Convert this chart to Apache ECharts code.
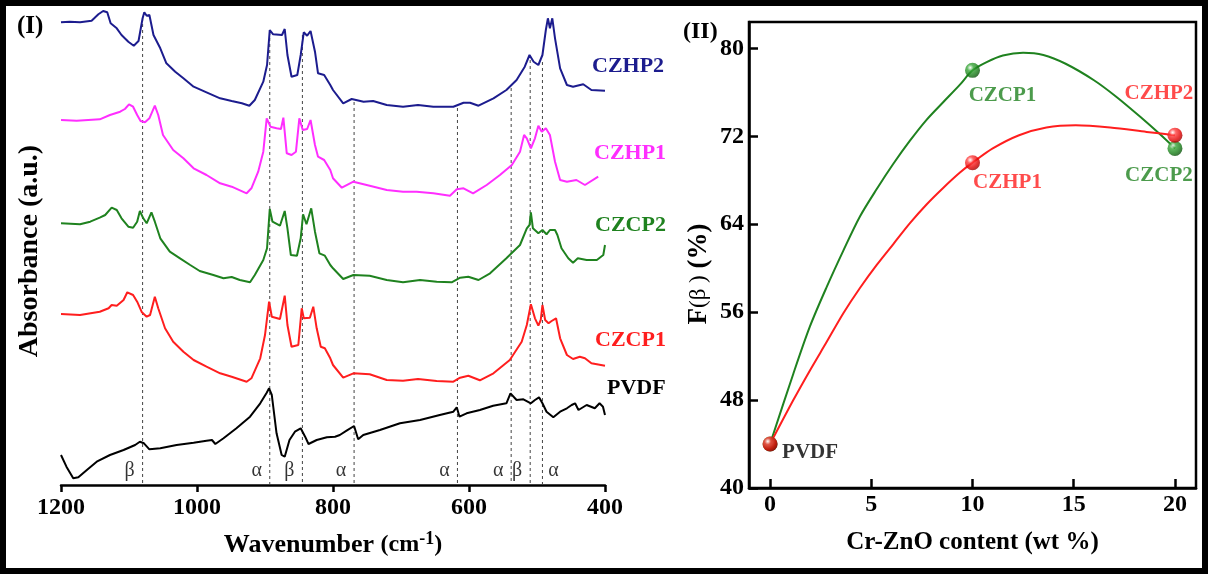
<!DOCTYPE html>
<html><head><meta charset="utf-8">
<script src="https://cdn.jsdelivr.net/npm/echarts@6/dist/echarts.min.js"></script>
<style>html,body{margin:0;padding:0;background:#fff}#c{width:1208px;height:574px}</style>
</head><body><div id="c"></div>
<script>
// ---------- Panel (I): FTIR spectra (stacked, arbitrary units) ----------
const wnTicks = [1200, 1000, 800, 600, 400];
const CZHP2 = [[1200,462.7],[1187,463.3],[1172,462.7],[1155,464.3],[1145,470.7],[1138,474],[1132,472.7],[1127,461.7],[1118,456.7],[1111,450],[1101,443.3],[1093,439.3],[1086,444],[1080,466.7],[1077.5,472.7],[1074,469.3],[1070,470],[1064,450],[1054,436.7],[1045,421.7],[1032,413.3],[1020,406.7],[1005,398.3],[986,392.7],[966,386.7],[949,384],[934,381.7],[923,379.3],[915,385],[902.5,403.3],[897,420],[893,455],[888,450.7],[875,450],[871,456],[867,430],[861,408.3],[852.5,410],[847.5,430],[843,452.7],[838,449.3],[833,454],[826.5,433.3],[822,411.7],[813,410],[804,400],[800,395],[785,381.7],[772.5,386],[755,383.3],[741,384],[721,380],[697,378.3],[675,380],[652.5,378.3],[623,378.3],[608,382.3],[598.5,382.3],[586,379.3],[564,386.7],[545,395],[530,405],[518,418.3],[511,430],[505,423.3],[498,420],[492,430],[487,455],[484,466.7],[481,456.7],[477.5,466.7],[473.5,446.7],[466,416.7],[456,400],[447,398.3],[432,400.7],[420,395],[400,394.3]];
const CZHP1 = [[1200,365],[1177,364.3],[1143,365.7],[1128,370],[1113,373.3],[1106,376],[1100,380.7],[1094,378.3],[1088,370],[1083,364],[1076.5,362.7],[1070,366.7],[1062,379.3],[1057,370],[1050,350],[1035,335],[1020,326.7],[1005,316.7],[986,310],[966,301.7],[949,298.3],[927,291.7],[920,296.7],[910,313.3],[902.5,333.3],[897.5,366.7],[892,358.3],[883,356.7],[876.5,356],[873,367.3],[868,331.7],[861,330],[854.5,333.3],[849.5,366.7],[844.5,355],[838,356],[833,365],[826.5,340],[822,328.3],[813,325],[804,315],[800,306.7],[787,297.3],[770,303.3],[746,299.3],[721,295],[697,293.3],[677,293.3],[652.5,291.7],[628,289.3],[618,295.7],[608,296.7],[594,291.7],[574,300],[554.5,310],[537,320],[525,333.3],[519,350],[515,346.7],[509,336.7],[503,346.7],[498,359.3],[493,353.3],[487,356.7],[481,350],[473.5,323.3],[466,305],[456,303.3],[442,305],[429.5,300],[410,308.3]];
const CZCP2 = [[1200,261.7],[1172,260.7],[1157,263.3],[1143,267.3],[1135,270],[1125.5,277.3],[1118,275],[1111,266.7],[1101,258.3],[1094,257.3],[1088,263.3],[1084,274],[1079,266.7],[1074,261.7],[1067,272.7],[1062,263.3],[1054,246.7],[1040,233.3],[1025,226.7],[1010,220],[996,214],[976,210],[961,206.7],[949,208],[937,205],[922,202.7],[915,210],[902.5,225],[897,236.7],[893,276],[889,263.3],[878,259.3],[871,274],[867,256.7],[862,230],[853,229.3],[847.5,246.7],[844,270.7],[839,260.7],[832,276.7],[826.5,253.3],[820,231.7],[812,229.3],[804,220],[800,216.7],[785,206],[770,210],[746,209.3],[721,205],[697,202.7],[672,205],[647.5,203.3],[625.5,202.7],[613,207.3],[601,208.3],[586,205],[569,211.7],[545,226.7],[525,240],[515,256.7],[511,260],[509,272.7],[506,256.7],[498,251.7],[492,255],[486,250.7],[481,255],[473.5,255],[470,250],[464,236.7],[454,226.7],[447,222.3],[440,226.7],[427,225],[412,225],[402.5,230],[400,240]];
const CZCP1 = [[1200,171],[1172,170],[1143,173.3],[1130,176.7],[1125.5,180],[1118,179.3],[1108,185],[1102.5,192.7],[1094,190],[1088,183.3],[1081,172.7],[1074,168.3],[1069,170],[1062,188.3],[1057,176.7],[1047,156.7],[1035,143.3],[1020,133.3],[1005,125],[986,118.3],[966,111.7],[949,108.3],[927,103.3],[920,106.7],[907,126.7],[900,150],[894,183.3],[890,168.3],[878,166],[871,189.3],[867,160],[861,138.3],[851,140],[846,176.7],[843,166.7],[834,167.3],[829,178.3],[824,156.7],[818,138.3],[812,136.7],[804,126.7],[800,120],[785,107.3],[770,111.7],[746,110.7],[721,105],[697,104.3],[675,106],[647.5,104],[623,103.3],[613,107.3],[601,109.3],[584,104.7],[564,111.7],[540,125],[522.5,143.3],[515,160],[509,180.7],[503,166.7],[498,159.3],[494.5,165],[492,180],[488,165],[483,161.7],[478.5,164],[472,166.7],[466,146.7],[456,130],[447,126],[437,128.3],[429.5,126.7],[420,121.7],[400,119.3]];
const PVDF = [[1200,30],[1192,18.3],[1182,6.7],[1174.5,7.7],[1162,15],[1147.5,23.3],[1128,30],[1108,35],[1091,40],[1084,43.3],[1078,41.7],[1070,35.7],[1054,36.7],[1030,40],[1005,42.3],[986,44.3],[978,45],[973,41],[961,46.7],[942,56.7],[922,68.3],[907,81.7],[897.5,92.3],[894,96.7],[890,90],[883,51.7],[875.5,30],[871,28.3],[864,45],[856,53.3],[847.5,56.7],[841,48.3],[836,41],[824,45],[809,47.7],[797,48.3],[790,50],[780,54.3],[769,59],[763,45.7],[755.5,50],[731,55],[701.5,61.7],[672,65],[643,70],[623,73.3],[618,77.7],[614,68.3],[603.5,71.7],[584,75],[564.5,79.3],[545,81.7],[539,91.7],[530,85],[520,85.7],[509,81.7],[503,85],[497,87.7],[492,81.7],[486,73.3],[476,67.7],[466,73.3],[456,76.7],[449,80],[444,81.7],[439,75],[427,80],[415,76.7],[408,81.7],[403,78.3],[400,70]];
const bandWn   = [1080, 893, 845, 769, 617, 538, 510, 492];
const bandTop  = [467, 453, 450, 383, 377, 397, 425, 423];
const bandName = ['β', 'α', 'β', 'α', 'α', 'α', 'β', 'α'];
const bandSide = ['left','left','left','left','left','left','left','right'];

// ---------- Panel (II): F(beta) vs Cr-ZnO content ----------
const contentX = [0, 10, 20];
const contentTicks = [0, 5, 10, 15, 20];
const fTicks = [40, 48, 56, 64, 72, 80];
const czcpF = [44, 78, 70.9];
const czhpF = [44, 69.6, 72.1];
const czcpNames = ['', 'CZCP1', 'CZCP2'];
const czhpNames = ['PVDF', 'CZHP1', 'CZHP2'];
// fitted trend curves
const czcpFitX = [0, 1.15, 1.97, 2.8, 3.62, 4.44, 5.27, 6.09, 6.91, 7.73, 8.55, 9.38, 10, 10.7, 11.5, 12.5, 13.5, 14.6, 16, 17.1, 18.3, 19.25, 20];
const czcpFitY = [44, 50.4, 54.7, 58.3, 61.6, 64.7, 67.2, 69.5, 71.6, 73.5, 75.1, 76.7, 78, 78.75, 79.35, 79.6, 79.4, 78.6, 77.1, 75.6, 73.75, 72.2, 70.9];
const czhpFitX = [0, 1.15, 1.97, 2.8, 3.62, 4.44, 5.27, 6.09, 6.91, 7.73, 8.55, 9.38, 10, 11, 12.3, 13.65, 15.1, 16.8, 18.6, 20];
const czhpFitY = [44, 48, 50.7, 53.3, 55.9, 58.2, 60.3, 62.2, 64.1, 65.8, 67.3, 68.7, 69.6, 70.9, 72.1, 72.8, 73, 72.8, 72.4, 72.1];

const SERIF = "'Liberation Serif','DejaVu Serif',serif";
const NAVY = '#1c1c8e', MAG = '#ff2eff', GRN = '#1f821f', RED = '#ff1e1e';
// label placement of the point annotations (pixels)
const czcpOff = [[0, 0], [30, 25], [-16, 27]];
const czhpOff = [[40, 9], [35, 20], [-16, -42]];

const chart = echarts.init(document.getElementById('c'), null, {renderer: 'canvas'});

function ball(c1, c2, c3) {
  return {type: 'radial', x: 0.35, y: 0.32, r: 0.75,
    colorStops: [{offset: 0, color: '#ffffff'}, {offset: 0.28, color: c1}, {offset: 0.7, color: c2}, {offset: 1, color: c3}]};
}

const bandLines = [];
bandWn.forEach((w, i) => { bandLines.push([w, bandTop[i]], [w, 0], [w, null]); });

const specSeries = [
  ['CZHP2', CZHP2, NAVY], ['CZHP1', CZHP1, MAG], ['CZCP2', CZCP2, GRN], ['CZCP1', CZCP1, RED], ['PVDF', PVDF, '#000']
].map(([n, d, c]) => ({
  name: n, type: 'line', xAxisIndex: 0, yAxisIndex: 0, data: d, showSymbol: false, symbol: 'none',
  lineStyle: {color: c, width: 2}, z: 3
}));

const option = {
  animation: false,
  backgroundColor: '#fff',
  grid: [
    {left: 61, right: 603, top: 5, bottom: 89},
    {left: 749, right: 12, top: 22, bottom: 86, show: true, borderColor: '#000', borderWidth: 2.5, backgroundColor: 'transparent'}
  ],
  xAxis: [
    {gridIndex: 0, type: 'value', inverse: true, min: 400, max: 1200, interval: 200,
     axisLine: {lineStyle: {color: '#000', width: 2.5}},
     axisTick: {inside: false, length: 7, lineStyle: {color: '#000', width: 2.5}},
     axisLabel: {color: '#000', fontFamily: SERIF, fontWeight: 'bold', fontSize: 24, margin: 11, formatter: v => String(v)},
     splitLine: {show: false},
     name: '{a|Wavenumber }{b|(cm}{c|-1}{b|)}', nameLocation: 'middle', nameGap: 45,
     nameTextStyle: {rich: {
       a: {fontFamily: SERIF, fontWeight: 'bold', fontSize: 26, color: '#000'},
       b: {fontFamily: SERIF, fontWeight: 'bold', fontSize: 24, color: '#000'},
       c: {fontFamily: SERIF, fontWeight: 'bold', fontSize: 18, color: '#000', verticalAlign: 'top', padding: [0, 0, 12, 0]}
     }}},
    {gridIndex: 1, type: 'value', min: -1.04, max: 21.04,
     axisLine: {onZero: false, lineStyle: {color: '#000', width: 2.5}},
     axisTick: {inside: true, length: 9, customValues: contentTicks, lineStyle: {color: '#000', width: 2.5}},
     axisLabel: {customValues: contentTicks, color: '#000', fontFamily: SERIF, fontWeight: 'bold', fontSize: 24, margin: 5},
     splitLine: {show: false},
     name: 'Cr-ZnO content (wt %)', nameLocation: 'middle', nameGap: 42,
     nameTextStyle: {fontFamily: SERIF, fontWeight: 'bold', fontSize: 25, color: '#000'}}
  ],
  yAxis: [
    {gridIndex: 0, type: 'value', min: 0, max: 480,
     axisLine: {show: false}, axisTick: {show: false}, axisLabel: {show: false}, splitLine: {show: false}},
    {gridIndex: 1, type: 'value', min: 40, max: 82.4,
     axisLine: {onZero: false, lineStyle: {color: '#000', width: 2.5}},
     axisTick: {inside: true, length: 9, customValues: fTicks, lineStyle: {color: '#000', width: 2.5}},
     axisLabel: {customValues: fTicks, color: '#000', fontFamily: SERIF, fontWeight: 'bold', fontSize: 24, margin: 5},
     splitLine: {show: false}}
  ],
  series: [
    {type: 'line', xAxisIndex: 0, yAxisIndex: 0, data: bandLines, showSymbol: false, symbol: 'none', connectNulls: false,
     lineStyle: {color: '#444', width: 1, type: [3, 3]}, z: 1},
    ...specSeries,
    {type: 'scatter', xAxisIndex: 0, yAxisIndex: 0, symbolSize: 0, z: 4,
     data: bandWn.map((w, i) => ({value: [w, 0], label: {formatter: bandName[i], offset: [bandSide[i] === 'left' ? -13 : 11, -14]}})),
     label: {show: true, position: 'inside', color: '#000', fontFamily: SERIF, fontSize: 20}},
    {type: 'line', xAxisIndex: 1, yAxisIndex: 1, data: czcpFitX.map((x, i) => [x, czcpFitY[i]]), smooth: 0.3,
     showSymbol: false, symbol: 'none', lineStyle: {color: GRN, width: 2}, z: 2},
    {type: 'line', xAxisIndex: 1, yAxisIndex: 1, data: czhpFitX.map((x, i) => [x, czhpFitY[i]]), smooth: 0.3,
     showSymbol: false, symbol: 'none', lineStyle: {color: RED, width: 2}, z: 3},
    {type: 'scatter', xAxisIndex: 1, yAxisIndex: 1, symbolSize: 15, z: 4,
     itemStyle: {color: ball('#3aa83a', '#167a16', '#0a4a0a')},
     data: contentX.map((x, i) => ({value: [x, czcpF[i]], name: czcpNames[i], label: {offset: czcpOff[i]}})),
     label: {show: true, position: 'inside', formatter: p => p.name, color: GRN, fontFamily: SERIF, fontWeight: 'bold', fontSize: 21}},
    {type: 'scatter', xAxisIndex: 1, yAxisIndex: 1, symbolSize: 15, z: 5,
     itemStyle: {color: ball('#ff4040', '#e00000', '#900000')},
     data: contentX.map((x, i) => ({value: [x, czhpF[i]], name: czhpNames[i],
       label: {color: i === 0 ? '#000' : RED, offset: czhpOff[i]}})),
     label: {show: true, position: 'inside', formatter: p => p.name, fontFamily: SERIF, fontWeight: 'bold', fontSize: 21}}
  ],
  graphic: [
    {type: 'rect', shape: {x: 3, y: 3, width: 1202, height: 568}, style: {fill: 'none', stroke: '#000', lineWidth: 6}, z: 100},
    {type: 'text', x: 17, y: 27, style: {text: '(I)', font: 'bold 25px ' + SERIF, fill: '#000', textVerticalAlign: 'middle', verticalAlign: 'middle'}},
    {type: 'text', x: 683, y: 32, style: {text: '(II)', font: 'bold 24px ' + SERIF, fill: '#000', textVerticalAlign: 'middle', verticalAlign: 'middle'}},
    {type: 'text', x: 30, y: 251, rotation: Math.PI / 2,
     style: {text: 'Absorbance (a.u.)', font: 'bold 28px ' + SERIF, fill: '#000', textAlign: 'center', align: 'center', textVerticalAlign: 'middle', verticalAlign: 'middle'}},
    {type: 'text', x: 699, y: 274, rotation: Math.PI / 2,
     style: {text: '{a|F}{b|(β )}{a| (%)}', textAlign: 'center', align: 'center', textVerticalAlign: 'middle', verticalAlign: 'middle',
       rich: {a: {fontFamily: SERIF, fontWeight: 'bold', fontSize: 27, fill: '#000', color: '#000'},
              b: {fontFamily: SERIF, fontWeight: 'normal', fontSize: 23, fill: '#000', color: '#000'}}}},
    {type: 'text', x: 592, y: 66, style: {text: 'CZHP2', font: 'bold 22px ' + SERIF, fill: NAVY, textVerticalAlign: 'middle', verticalAlign: 'middle'}},
    {type: 'text', x: 594, y: 153, style: {text: 'CZHP1', font: 'bold 22px ' + SERIF, fill: MAG, textVerticalAlign: 'middle', verticalAlign: 'middle'}},
    {type: 'text', x: 595, y: 225, style: {text: 'CZCP2', font: 'bold 22px ' + SERIF, fill: GRN, textVerticalAlign: 'middle', verticalAlign: 'middle'}},
    {type: 'text', x: 595, y: 340, style: {text: 'CZCP1', font: 'bold 22px ' + SERIF, fill: RED, textVerticalAlign: 'middle', verticalAlign: 'middle'}},
    {type: 'text', x: 607, y: 388, style: {text: 'PVDF', font: 'bold 22px ' + SERIF, fill: '#000', textVerticalAlign: 'middle', verticalAlign: 'middle'}}
  ]
};

chart.setOption(option);
</script></body></html>
